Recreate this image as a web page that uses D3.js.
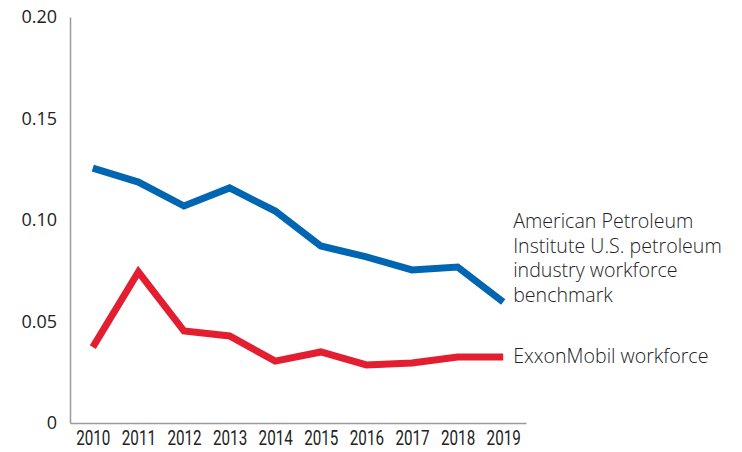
<!DOCTYPE html>
<html>
<head>
<meta charset="utf-8">
<script src="https://cdn.jsdelivr.net/npm/d3@7/dist/d3.min.js"></script>
<style>
  body { margin: 0; background: #fff; }
  svg { display: block; }
</style>
</head>
<body>
<div id="chart"></div>
<script>
// chart data
var years = ["2010", "2011", "2012", "2013", "2014", "2015", "2016", "2017", "2018", "2019"];
var apiValues = [0.1256, 0.1187, 0.1069, 0.1158, 0.1044, 0.0872, 0.0818, 0.0754, 0.0768, 0.0596];
var xomValues = [0.0374, 0.0744, 0.0453, 0.0429, 0.0305, 0.0350, 0.0286, 0.0296, 0.0325, 0.0325];
var yTicks = [0, 0.05, 0.10, 0.15, 0.20];
var apiLabel = ["American Petroleum", "Institute U.S. petroleum", "industry workforce", "benchmark"];
var xomLabel = "ExxonMobil workforce";

var width = 742, height = 452;
var margin = {top: 17, left: 70, axisRight: 526, bottom: 423};

var svg = d3.select("#chart").append("svg")
    .attr("width", width)
    .attr("height", height);

var x = d3.scalePoint()
    .domain(years)
    .range([margin.left, margin.axisRight])
    .padding(0.5);

var y = d3.scaleLinear()
    .domain([0, 0.20])
    .range([margin.bottom, margin.top]);

// axes
var yAxis = svg.append("g")
    .attr("transform", "translate(" + margin.left + ",0)")
    .call(d3.axisLeft(y).tickValues(yTicks).tickSize(0).tickPadding(13)
        .tickFormat(function(d) { return d === 0 ? "0" : d3.format(".2f")(d); }));
yAxis.select(".domain").attr("stroke", "#9a9a9a").attr("stroke-width", 1.5);
yAxis.selectAll("text")
    .attr("font-family", "'Open Sans', sans-serif")
    .attr("font-size", 18)
    .attr("fill", "#222");

var xAxis = svg.append("g")
    .attr("transform", "translate(0," + margin.bottom + ")")
    .call(d3.axisBottom(x).tickSize(0).tickPadding(8));
xAxis.select(".domain").attr("stroke", "#9a9a9a").attr("stroke-width", 1.5);
// condensed look for the year labels
xAxis.selectAll("text")
    .attr("font-family", "Roboto, sans-serif")
    .attr("font-size", 19.5)
    .attr("fill", "#222")
    .attr("transform", "scale(0.78,1)");

var line = d3.line()
    .x(function(d, i) { return x(years[i]); })
    .y(function(d) { return y(d); });

svg.append("path")
    .datum(apiValues)
    .attr("fill", "none")
    .attr("stroke", "#0066b2")
    .attr("stroke-width", 7)
    .attr("stroke-linejoin", "miter")
    .attr("d", line);

svg.append("path")
    .datum(xomValues)
    .attr("fill", "none")
    .attr("stroke", "#e31e30")
    .attr("stroke-width", 7)
    .attr("stroke-linejoin", "miter")
    .attr("d", line);

// series labels
var labelX = x("2019") + 10;
svg.append("text")
    .attr("x", labelX)
    .attr("y", 228)
    .attr("font-family", "'Open Sans', sans-serif")
    .attr("font-weight", 300)
    .attr("font-size", 19.6)
    .attr("fill", "#222")
    .selectAll("tspan")
    .data(apiLabel)
    .enter().append("tspan")
    .attr("x", labelX)
    .attr("dy", function(d, i) { return i === 0 ? 0 : 24.7; })
    .text(function(d) { return d; });

svg.append("text")
    .attr("x", labelX)
    .attr("y", 363)
    .attr("font-family", "'Open Sans', sans-serif")
    .attr("font-weight", 300)
    .attr("font-size", 19.6)
    .attr("fill", "#222")
    .text(xomLabel);
</script>
</body>
</html>
